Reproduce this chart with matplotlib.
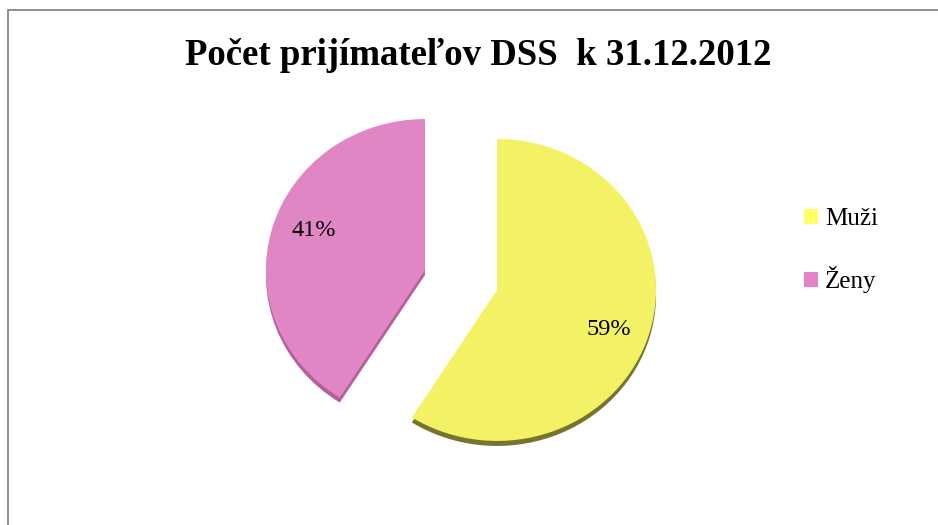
import matplotlib
matplotlib.use("Agg")
import numpy as np
import matplotlib.pyplot as plt
from matplotlib.patches import Rectangle, Patch

# data
labels = ["Muži", "Ženy"]
values = [59, 41]
colors = ["#F3F265", "#E086C5"]
side_colors = ["#76742E", "#B5609B"]
explode = [0.236, 0.236]

plt.rcParams["font.family"] = ["Liberation Serif", "DejaVu Serif"]

fig = plt.figure(figsize=(9.38, 5.25), dpi=100)
ax = fig.add_axes([0, 0, 1, 1])

# pixel geometry of the pie (radius in px, horizontal and vertical)
rx, ry = 159.0, 151.0
cx, cy = 461.0 / rx, (525 - 280) / ry

# darker copy underneath, shifted down, gives the thin 3D side
ax.pie(values, colors=side_colors, explode=explode,
       startangle=90, counterclock=False, center=(cx, cy - 5 / ry),
       wedgeprops=dict(linewidth=0))
wedges, _, autotexts = ax.pie(values, colors=colors, explode=explode,
                              startangle=90, counterclock=False, center=(cx, cy),
                              autopct="%1.0f%%", pctdistance=0.75,
                              textprops=dict(fontsize=17.5, color="black"),
                              wedgeprops=dict(linewidth=0))

# labels sit a little clockwise from the wedge middle
for w, t in zip(wedges, autotexts):
    ang = np.deg2rad((w.theta1 + w.theta2) / 2 - 4.5)
    t.set_position((w.center[0] + 0.75 * np.cos(ang),
                    w.center[1] + 0.75 * np.sin(ang)))

ax.set_aspect("auto")
ax.set_xlim(0, 938 / rx)
ax.set_ylim(0, 525 / ry)
ax.axis("off")

fig.text(478 / 938, 1 - 65 / 525, "Počet prijímateľov DSS  k 31.12.2012",
         ha="center", va="baseline", fontsize=26.5, fontweight="bold")

handles = [Patch(facecolor=c, edgecolor="none") for c in ["#FFFF66", "#E680C8"]]
fig.legend(handles, labels, loc="upper left",
           bbox_to_anchor=(804 / 938, 1 - 208 / 525), frameon=False,
           fontsize=18, borderpad=0, borderaxespad=0,
           handlelength=0.55, handleheight=0.55, handletextpad=0.28,
           labelspacing=1.45)

fig.patches.append(Rectangle((8 / 938, -0.1), 1.2, 1.1 - 10 / 525,
                             transform=fig.transFigure, fill=False,
                             edgecolor="#868686", linewidth=1.3))

fig.savefig("out.png", dpi=100, facecolor="white")
